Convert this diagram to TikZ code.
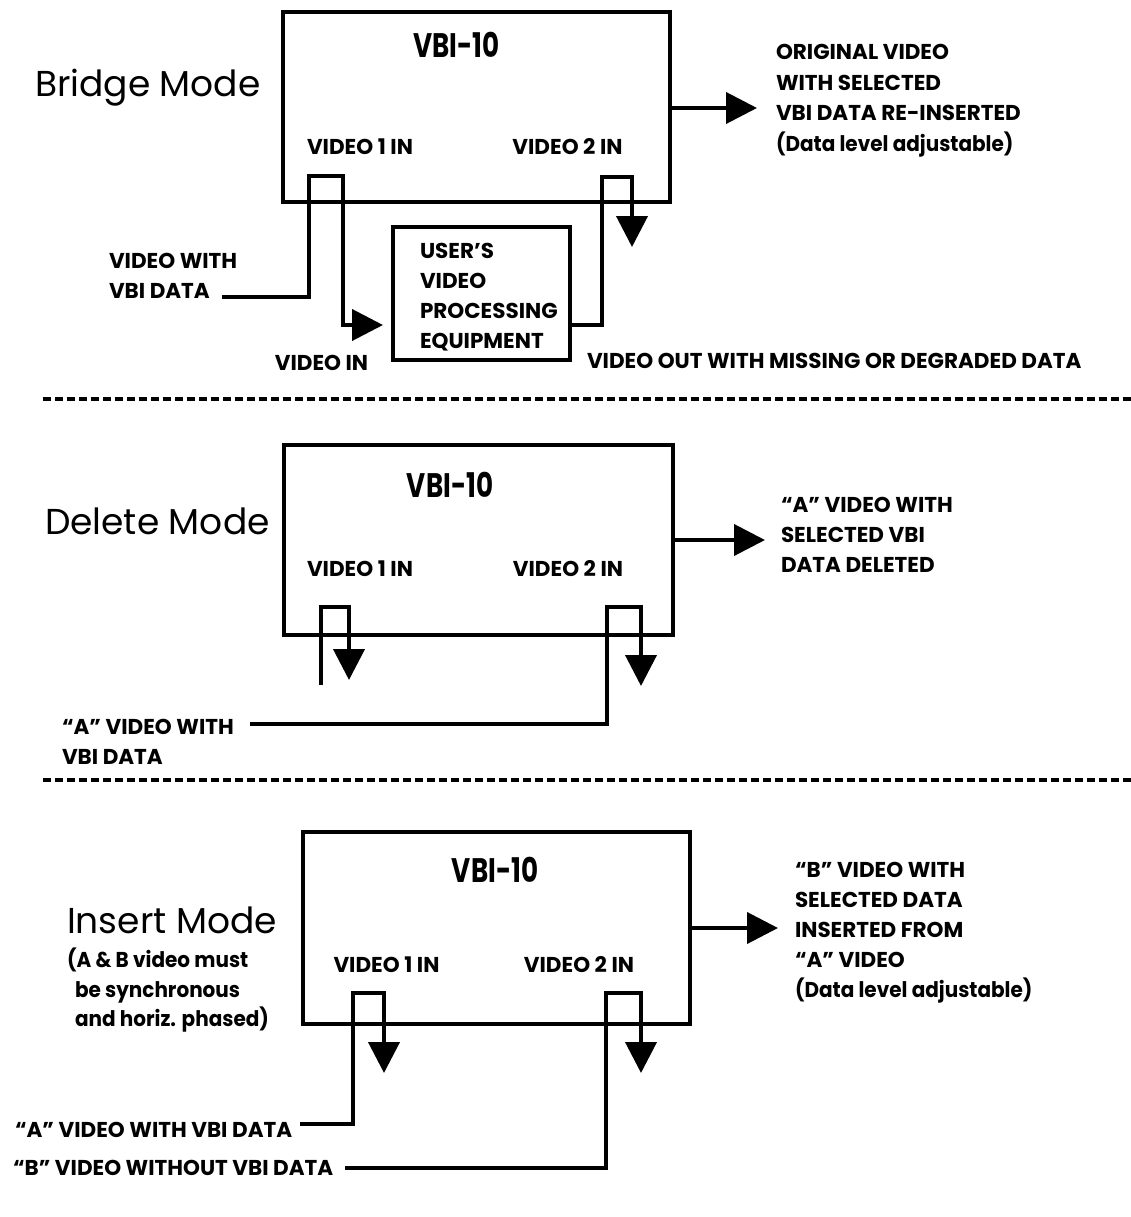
\documentclass[tikz,border=0pt]{standalone}
\usepackage{fontspec}
\setmainfont{Poppins}
\newfontfamily\lblfont{Poppins}
\newfontfamily\subfont[FakeStretch=0.93]{Poppins}
\newfontfamily\ttlfont[FakeStretch=0.77]{Poppins}
\newfontfamily\modefont{Poppins}
\usetikzlibrary{arrows.meta}
\begin{document}
\begin{tikzpicture}[x=1pt,y=-1pt,line width=4pt,
  lbl/.style={font=\lblfont\bfseries\fontsize{21.5}{30}\selectfont,inner sep=0pt,anchor=base west},
  lblc/.style={font=\lblfont\bfseries\fontsize{21.5}{30}\selectfont,inner sep=0pt,anchor=base},
  sublbl/.style={font=\subfont\bfseries\fontsize{21.5}{30}\selectfont,inner sep=0pt,anchor=base west},
  ttl/.style={font=\ttlfont\bfseries\fontsize{34}{36}\selectfont,inner sep=0pt,anchor=base},
  modettl/.style={font=\modefont\fontsize{36}{38}\selectfont,inner sep=0pt,anchor=base west},
  unit/.style={draw,line width=4pt,inner sep=0pt},
  arr/.style={-{Triangle[length=31pt,width=31pt]}},
  sep/.style={line width=3.5pt,dash pattern=on 8pt off 4pt}]
\useasboundingbox (0,0) rectangle (1131,1217);

% ---------------- Bridge mode
\node[unit,minimum width=387pt,minimum height=190pt] (b1) at (476.5,107) {};
\node[ttl] (b1t) at (456.5,58) {VBI-10};
\node[modettl] (b1m) at (33,97) {Bridge Mode};
\node[lblc] (b1v1) at (360,155) {VIDEO 1 IN};
\node[lblc] (b1v2) at (567.5,155) {VIDEO 2 IN};
\node[lbl] (b1o1) at (774,60) {ORIGINAL VIDEO};
\node[lbl] (b1o2) at (774,90.5) {WITH SELECTED};
\node[lbl] (b1o3) at (774,121) {VBI DATA RE-INSERTED};
\node[sublbl] (b1o4) at (774,151.5) {(Data level adjustable)};
\coordinate (b1out) at (757,108);
\draw[arr] (b1.east |- b1out) -- (b1out);
\node[lbl] (b1s1) at (107,268.5) {VIDEO WITH};
\node[lbl] (b1s2) at (107,298.5) {VBI DATA};
\node[unit,minimum width=177pt,minimum height=133pt] (user) at (481.5,293.5) {};
\node[lbl] (u1) at (418,258) {USER’S};
\node[lbl] (u2) at (418,288) {VIDEO};
\node[lbl] (u3) at (418,318) {PROCESSING};
\node[lbl] (u4) at (418,348) {EQUIPMENT};
\node[lblc] (b1vin) at (321.5,370) {VIDEO IN};
\node[lbl] (b1vout) at (585,368) {VIDEO OUT WITH MISSING OR DEGRADED DATA};
\coordinate (b1s) at (222,297);
\coordinate (b1in) at (383,325);
\draw[arr] (b1s) -- (309,297) -- (309,176) -- (343,176) -- (343,325) -- (b1in);
\coordinate (b1d) at (632,247);
\draw[arr] (user.east |- b1in) -- (602,325) -- (602,177) -- (632,177) -- (b1d);

\coordinate (sepA1) at (43,399);
\coordinate (sepA2) at (1131,399);
\draw[sep] (sepA1) -- (sepA2);

% ---------------- Delete mode
\node[unit,minimum width=389pt,minimum height=190pt] (b2) at (478,540) {};
\node[ttl] (b2t) at (450,497) {VBI-10};
\node[modettl] (b2m) at (43,534.5) {Delete Mode};
\node[lblc] (b2v1) at (360,576.5) {VIDEO 1 IN};
\node[lblc] (b2v2) at (568,576.5) {VIDEO 2 IN};
\node[lbl] (b2o1) at (779,512.5) {“A” VIDEO WITH};
\node[lbl] (b2o2) at (779,542.5) {SELECTED VBI};
\node[lbl] (b2o3) at (779,572.5) {DATA DELETED};
\coordinate (b2out) at (765,540);
\draw[arr] (b2.east |- b2out) -- (b2out);
\node[lbl] (b2s1) at (60,734.5) {“A” VIDEO WITH};
\node[lbl] (b2s2) at (60,764.5) {VBI DATA};
\coordinate (b2a) at (321,685);
\coordinate (b2ad) at (349,680);
\draw[arr] (b2a) -- (321,607) -- (349,607) -- (b2ad);
\coordinate (b2s) at (250,724);
\coordinate (b2bd) at (641,686);
\draw[arr] (b2s) -- (607,724) -- (607,607) -- (641,607) -- (b2bd);

\coordinate (sepB1) at (43,780);
\coordinate (sepB2) at (1131,780);
\draw[sep] (sepB1) -- (sepB2);

% ---------------- Insert mode
\node[unit,minimum width=387pt,minimum height=192pt] (b3) at (496.5,928) {};
\node[ttl] (b3t) at (495,882) {VBI-10};
\node[modettl] (b3m) at (65,933) {Insert Mode};
\node[sublbl] (b3n1) at (65,967) {(A \& B video must};
\node[sublbl] (b3n2) at (73,997) {be synchronous};
\node[sublbl] (b3n3) at (73,1026) {and horiz. phased)};
\node[lblc] (b3v1) at (386.5,972) {VIDEO 1 IN};
\node[lblc] (b3v2) at (579,972) {VIDEO 2 IN};
\node[lbl] (b3o1) at (793,877.5) {“B” VIDEO WITH};
\node[lbl] (b3o2) at (793,907.5) {SELECTED DATA};
\node[lbl] (b3o3) at (793,937.5) {INSERTED FROM};
\node[lbl] (b3o4) at (793,967.5) {“A” VIDEO};
\node[sublbl] (b3o5) at (793,997.5) {(Data level adjustable)};
\coordinate (b3out) at (778,928);
\draw[arr] (b3.east |- b3out) -- (b3out);
\node[lbl] (b3sa) at (13,1137) {“A” VIDEO WITH VBI DATA};
\node[lbl] (b3sb) at (11,1175) {“B” VIDEO WITHOUT VBI DATA};
\coordinate (b3a) at (300,1124);
\coordinate (b3ad) at (384,1073);
\draw[arr] (b3a) -- (353,1124) -- (353,993) -- (384,993) -- (b3ad);
\coordinate (b3b) at (345,1168);
\coordinate (b3bd) at (641,1073);
\draw[arr] (b3b) -- (606,1168) -- (606,993) -- (641,993) -- (b3bd);
\end{tikzpicture}
\end{document}
